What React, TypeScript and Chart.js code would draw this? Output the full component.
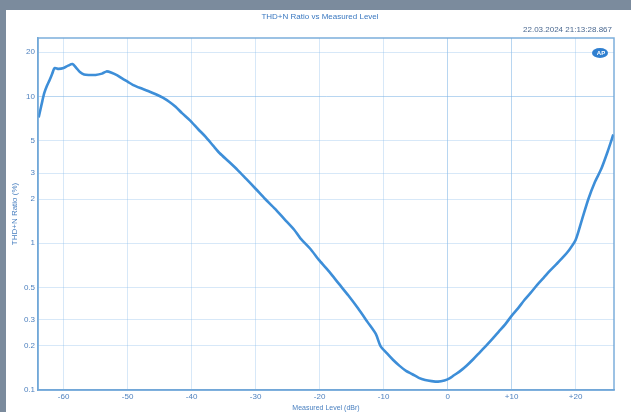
import React, { useEffect, useRef } from "react";
import { Chart, registerables } from "chart.js";

Chart.register(...registerables);

const chartTitle = "THD+N Ratio vs Measured Level";
const timestamp = "22.03.2024 21:13:28.867";
const xTitle = "Measured Level (dBr)";
const yTitle = "THD+N Ratio (%)";

const xTickValues = [-60, -50, -40, -30, -20, -10, 0, 10, 20];
const xTickLabels = ["-60", "-50", "-40", "-30", "-20", "-10", "0", "+10", "+20"];
const yTickValues = [20, 10, 5, 3, 2, 1, 0.5, 0.3, 0.2, 0.1];
const yTickLabels = ["20", "10", "5", "3", "2", "1", "0.5", "0.3", "0.2", "0.1"];

const levels = [
  -63.9, -63.6, -63.3, -63.0, -62.6, -62.2, -61.8, -61.4, -60.8, -60.0,
  -59.3, -58.6, -58.0, -57.4, -56.8, -56.0, -55.0, -54.0, -53.3, -52.5,
  -51.6, -50.8, -50.0, -49.2, -48.0, -46.8, -45.5, -44.5, -43.5, -42.5,
  -41.5, -40.3, -39.0, -37.8, -36.6, -35.6, -34.2, -32.8, -31.5, -30.0,
  -28.5, -27.0, -25.5, -24.0, -23.0, -21.5, -20.0, -18.5, -17.0, -15.5,
  -14.0, -12.5, -11.2, -10.5, -9.5, -8.5, -7.5, -6.5, -5.5, -4.5,
  -3.5, -2.5, -1.5, -0.5, 0.3, 1.0, 2.0, 3.0, 4.0, 5.0,
  6.0, 7.0, 8.0, 9.0, 10.0, 11.0, 12.0, 13.0, 14.0, 15.0,
  16.0, 17.0, 18.0, 19.0, 20.0, 21.0, 22.0, 23.0, 24.0, 25.0, 25.9,
];

const thdn = [
  7.2, 8.2, 9.4, 10.6, 11.8, 12.9, 14.2, 15.6, 15.4, 15.6,
  16.2, 16.6, 15.6, 14.6, 14.1, 14.0, 14.0, 14.3, 14.8, 14.5,
  13.9, 13.2, 12.6, 12.0, 11.4, 10.9, 10.3, 9.8, 9.2, 8.5,
  7.7, 6.9, 6.0, 5.3, 4.6, 4.1, 3.6, 3.15, 2.75, 2.35,
  2.0, 1.72, 1.46, 1.24, 1.08, 0.92, 0.76, 0.64, 0.53, 0.44,
  0.36, 0.29, 0.24, 0.2, 0.178, 0.16, 0.146, 0.135, 0.128, 0.121,
  0.117, 0.115, 0.114, 0.116, 0.12, 0.126, 0.135, 0.147, 0.162, 0.18,
  0.2, 0.223, 0.25, 0.28, 0.32, 0.36, 0.41, 0.46, 0.52, 0.58,
  0.65, 0.72, 0.8, 0.9, 1.05, 1.45, 2.0, 2.6, 3.2, 4.2, 5.5,
];

const FONT = "'Liberation Sans', Arial, sans-serif";

const overlayPlugin = {
  id: "overlayText",
  afterDatasetsDraw(chart: any) {
    const ctx = chart.ctx as CanvasRenderingContext2D;
    const a = chart.chartArea;
    ctx.save();
    ctx.strokeStyle = "rgba(110,165,215,0.9)";
    ctx.lineWidth = 1.5;
    ctx.strokeRect(a.left, a.top, a.right - a.left, a.bottom - a.top);
    ctx.restore();
  },
  afterDraw(chart: any) {
    const ctx = chart.ctx as CanvasRenderingContext2D;
    const area = chart.chartArea;
    ctx.save();
    ctx.font = `8px ${FONT}`;
    ctx.fillStyle = "#3a78c0";
    ctx.textAlign = "center";
    ctx.textBaseline = "middle";
    ctx.fillText(chartTitle, 314, 7);
    ctx.fillStyle = "#4a6890";
    ctx.textAlign = "right";
    ctx.fillText(timestamp, area.right - 2, 20);
    const cx = area.right - 14;
    const cy = area.top + 15;
    ctx.fillStyle = "#2f7fd0";
    ctx.beginPath();
    ctx.ellipse(cx, cy, 8, 5, 0, 0, Math.PI * 2);
    ctx.fill();
    ctx.fillStyle = "#ffffff";
    ctx.font = `bold 6px ${FONT}`;
    ctx.textAlign = "center";
    ctx.fillText("AP", cx + 1, cy + 0.5);
    ctx.restore();
  },
};

export default function App() {
  const canvasRef = useRef<HTMLCanvasElement | null>(null);

  useEffect(() => {
    document.body.style.margin = "0";
    const canvas = canvasRef.current;
    if (!canvas) return;
    const points = levels.map((x, i) => ({ x, y: thdn[i] }));
    const chart = new Chart(canvas, {
      type: "line",
      data: {
        datasets: [
          {
            data: points,
            borderColor: "#3d8ed8",
            borderWidth: 2.6,
            pointRadius: 0,
            tension: 0.25,
            fill: false,
          },
        ],
      },
      options: {
        animation: false,
        responsive: false,
        maintainAspectRatio: false,
        layout: { padding: { left: 0, top: 28, right: 17, bottom: 0 } },
        plugins: {
          legend: { display: false },
          tooltip: { enabled: false },
          title: { display: false },
        },
        scales: {
          x: {
            type: "linear",
            min: -64,
            max: 26,
            afterBuildTicks: (scale: any) => {
              scale.ticks = xTickValues.map((v) => ({ value: v }));
            },
            afterFit: (scale: any) => {
              scale.height = 22;
            },
            ticks: {
              autoSkip: false,
              maxRotation: 0,
              padding: 2,
              color: "#4f82bf",
              font: { size: 8, family: FONT },
              callback: (v: any) => {
                const i = xTickValues.indexOf(Number(v));
                return i >= 0 ? xTickLabels[i] : "";
              },
            },
            grid: {
              color: (c: any) =>
                c.tick && (c.tick.value === 0 || c.tick.value === 10)
                  ? "rgba(125,180,230,0.55)"
                  : "rgba(140,190,235,0.35)",
              lineWidth: 1,
              drawTicks: false,
            },
            border: { color: "rgba(110,165,215,0.9)", width: 1.5 },
            title: {
              display: true,
              text: xTitle,
              color: "#4a80c0",
              font: { size: 7, family: FONT },
              padding: { top: 0, bottom: 0 },
            },
          },
          y: {
            type: "logarithmic",
            min: 0.1,
            max: 25,
            afterBuildTicks: (scale: any) => {
              scale.ticks = yTickValues.map((v) => ({ value: v }));
            },
            afterFit: (scale: any) => {
              scale.width = 32;
            },
            ticks: {
              autoSkip: false,
              padding: 3,
              color: "#4f82bf",
              font: { size: 8, family: FONT },
              callback: (v: any) => {
                const i = yTickValues.indexOf(Number(v));
                return i >= 0 ? yTickLabels[i] : "";
              },
            },
            grid: {
              color: (c: any) =>
                c.tick && c.tick.value === 10
                  ? "rgba(125,180,230,0.55)"
                  : "rgba(140,190,235,0.35)",
              lineWidth: 1,
              drawTicks: false,
            },
            border: { color: "rgba(110,165,215,0.9)", width: 1.5 },
            title: {
              display: true,
              text: yTitle,
              color: "#4a80c0",
              font: { size: 8, family: FONT },
              padding: { top: 4, bottom: 2 },
            },
          },
        },
      },
      plugins: [overlayPlugin],
    });
    return () => chart.destroy();
  }, []);

  return (
    <div
      style={{
        position: "relative",
        width: 631,
        height: 412,
        background: "#7b8b9d",
        overflow: "hidden",
      }}
    >
      <div
        style={{
          position: "absolute",
          left: 6,
          top: 10,
          width: 625,
          height: 402,
          background: "#ffffff",
        }}
      >
        <canvas ref={canvasRef} width={625} height={402} style={{ display: "block" }} />
      </div>
    </div>
  );
}
